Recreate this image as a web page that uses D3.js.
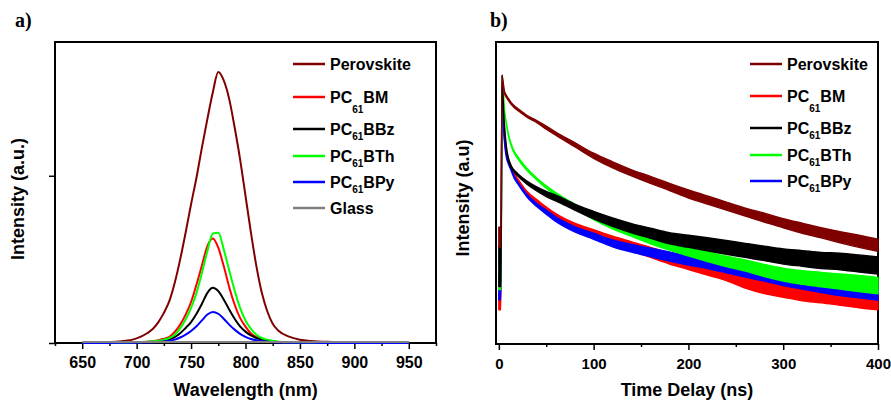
<!DOCTYPE html>
<html>
<head>
<meta charset="utf-8">
<script src="https://cdn.jsdelivr.net/npm/d3@7"></script>
<style>
  body { margin: 0; background: #fff; }
  text { font-family: "Liberation Sans", Arial, sans-serif; font-weight: bold; fill: #000; }
</style>
</head>
<body>
<div id="viz"></div>
<script>
// ---- panel a: steady state PL spectra ----
const wavelength = [650, 670, 690, 700, 710, 715, 720, 725, 730, 735, 740, 745, 750, 755, 760, 765, 770, 775, 780, 785, 790, 795, 800, 805, 810, 815, 820, 825, 830, 840, 850, 860, 880, 900, 950];
const perovskitePL = [0.002, 0.004, 0.013, 0.028, 0.06, 0.085, 0.125, 0.18, 0.25, 0.36, 0.50, 0.66, 0.83, 0.99, 1.17, 1.34, 1.50, 1.62, 1.57, 1.46, 1.29, 1.10, 0.88, 0.66, 0.46, 0.30, 0.19, 0.115, 0.075, 0.038, 0.02, 0.012, 0.006, 0.003, 0.001];
const bmPL = [0, 0.001, 0.002, 0.004, 0.008, 0.011, 0.017, 0.025, 0.037, 0.066, 0.11, 0.17, 0.245, 0.35, 0.465, 0.58, 0.625, 0.57, 0.46, 0.335, 0.23, 0.15, 0.098, 0.057, 0.035, 0.022, 0.015, 0.009, 0.006, 0.003, 0.002, 0.001, 0.001, 0, 0];
const bbzPL = [0, 0.001, 0.002, 0.003, 0.005, 0.007, 0.01, 0.015, 0.022, 0.035, 0.058, 0.09, 0.125, 0.175, 0.235, 0.30, 0.33, 0.31, 0.26, 0.20, 0.145, 0.10, 0.068, 0.045, 0.03, 0.02, 0.013, 0.009, 0.006, 0.003, 0.002, 0.001, 0.001, 0, 0];
const bthPL = [0, 0.001, 0.002, 0.004, 0.007, 0.010, 0.014, 0.020, 0.030, 0.050, 0.087, 0.14, 0.21, 0.30, 0.42, 0.55, 0.655, 0.66, 0.56, 0.435, 0.315, 0.21, 0.135, 0.085, 0.05, 0.03, 0.02, 0.013, 0.008, 0.004, 0.003, 0.002, 0.001, 0.001, 0];
const bpyPL = [0, 0, 0.001, 0.002, 0.003, 0.004, 0.006, 0.009, 0.013, 0.02, 0.033, 0.05, 0.072, 0.10, 0.135, 0.17, 0.186, 0.175, 0.145, 0.11, 0.08, 0.055, 0.037, 0.024, 0.016, 0.011, 0.007, 0.005, 0.003, 0.002, 0.001, 0.001, 0, 0, 0];
const glassPL = [0.006, 0.006, 0.006, 0.006, 0.006, 0.006, 0.006, 0.006, 0.006, 0.006, 0.006, 0.006, 0.006, 0.006, 0.006, 0.006, 0.006, 0.006, 0.006, 0.006, 0.006, 0.006, 0.006, 0.006, 0.006, 0.006, 0.006, 0.006, 0.006, 0.006, 0.006, 0.006, 0.006, 0.006, 0.006];
const wlTicks = [650, 700, 750, 800, 850, 900, 950];
const wlMinor = [625, 675, 725, 775, 825, 875, 925, 975];

const namesA = ['Perovskite', 'PC61BM', 'PC61BBz', 'PC61BTh', 'PC61BPy', 'Glass'];
const colorsA = ['#800000', '#ff0000', '#000000', '#00ff00', '#0000ff', '#808080'];
const seriesA = [perovskitePL, bmPL, bbzPL, bthPL, bpyPL, glassPL];

// ---- panel b: TRPL decays (log10 of counts, with noise half width) ----
const time = [0, 1, 2.2, 3.4, 5, 6, 8, 10, 13, 16, 20, 30, 40, 50, 60, 80, 100, 120, 140, 160, 180, 200, 220, 240, 260, 280, 300, 320, 340, 360, 380, 400];
const perovskiteLog = [1.06, 1.06, 1.06, 2.67, 2.56, 2.50, 2.46, 2.43, 2.39, 2.36, 2.33, 2.26, 2.21, 2.15, 2.09, 1.98, 1.87, 1.78, 1.70, 1.63, 1.56, 1.49, 1.43, 1.37, 1.31, 1.255, 1.20, 1.15, 1.105, 1.06, 1.02, 0.98];
const perovskiteNoise = [0.10, 0.10, 0.10, 0, 0.01, 0.01, 0.01, 0.01, 0.01, 0.01, 0.01, 0.01, 0.01, 0.015, 0.015, 0.02, 0.025, 0.03, 0.03, 0.035, 0.035, 0.04, 0.04, 0.04, 0.04, 0.045, 0.045, 0.05, 0.05, 0.055, 0.06, 0.06];
const bmLog = [0.42, 0.42, 0.42, 2.67, 2.18, 2.04, 1.89, 1.83, 1.76, 1.69, 1.63, 1.50, 1.42, 1.34, 1.27, 1.17, 1.10, 1.03, 0.97, 0.91, 0.85, 0.80, 0.75, 0.70, 0.63, 0.58, 0.55, 0.52, 0.50, 0.48, 0.46, 0.44];
const bmNoise = [0.08, 0.08, 0.08, 0, 0.01, 0.01, 0.01, 0.01, 0.01, 0.01, 0.01, 0.012, 0.015, 0.02, 0.025, 0.03, 0.035, 0.04, 0.045, 0.05, 0.055, 0.06, 0.065, 0.07, 0.075, 0.08, 0.085, 0.09, 0.09, 0.095, 0.10, 0.10];
const bbzLog = [0.77, 0.77, 0.77, 2.67, 2.32, 2.16, 1.95, 1.84, 1.76, 1.72, 1.68, 1.60, 1.54, 1.49, 1.45, 1.36, 1.28, 1.21, 1.15, 1.10, 1.05, 1.02, 0.99, 0.96, 0.93, 0.90, 0.87, 0.85, 0.83, 0.82, 0.80, 0.78];
const bbzNoise = [0.20, 0.20, 0.20, 0, 0.01, 0.01, 0.01, 0.01, 0.01, 0.01, 0.012, 0.015, 0.02, 0.025, 0.028, 0.03, 0.038, 0.042, 0.046, 0.05, 0.055, 0.06, 0.065, 0.068, 0.07, 0.072, 0.075, 0.078, 0.08, 0.082, 0.085, 0.085];
const bthLog = [0.62, 0.62, 0.62, 2.67, 2.47, 2.32, 2.19, 2.08, 1.98, 1.91, 1.85, 1.73, 1.64, 1.56, 1.49, 1.37, 1.26, 1.17, 1.10, 1.03, 0.97, 0.92, 0.87, 0.82, 0.78, 0.73, 0.69, 0.66, 0.64, 0.62, 0.60, 0.58];
const bthNoise = [0.08, 0.08, 0.08, 0, 0.01, 0.01, 0.01, 0.01, 0.01, 0.01, 0.01, 0.01, 0.01, 0.012, 0.015, 0.02, 0.024, 0.027, 0.03, 0.034, 0.038, 0.045, 0.05, 0.052, 0.056, 0.06, 0.064, 0.068, 0.072, 0.075, 0.08, 0.082];
const bpyLog = [0.49, 0.49, 0.49, 2.67, 2.15, 2.01, 1.86, 1.80, 1.73, 1.66, 1.60, 1.47, 1.38, 1.31, 1.24, 1.14, 1.07, 1.00, 0.95, 0.91, 0.87, 0.83, 0.80, 0.76, 0.72, 0.68, 0.64, 0.61, 0.58, 0.55, 0.53, 0.51];
const bpyNoise = [0.05, 0.05, 0.05, 0, 0.01, 0.01, 0.01, 0.01, 0.01, 0.01, 0.01, 0.012, 0.015, 0.02, 0.022, 0.026, 0.03, 0.034, 0.038, 0.042, 0.045, 0.045, 0.05, 0.052, 0.054, 0.056, 0.06, 0.064, 0.068, 0.07, 0.072, 0.075];
const timeTicks = [0, 100, 200, 300, 400];
const timeMinor = [50, 150, 250, 350];

const namesB = ['Perovskite', 'PC61BM', 'PC61BBz', 'PC61BTh', 'PC61BPy'];
const colorsB = ['#800000', '#ff0000', '#000000', '#00ff00', '#0000ff'];
const seriesB = [[perovskiteLog, perovskiteNoise], [bmLog, bmNoise], [bbzLog, bbzNoise], [bthLog, bthNoise], [bpyLog, bpyNoise]];
// red first, perovskite last (on top)
const drawOrderB = [1, 4, 3, 2, 0];

const svg = d3.select('#viz').append('svg')
    .attr('width', 891)
    .attr('height', 403);

const boxA = {left: 55, right: 436, top: 42, bottom: 343};
const boxB = {left: 496, right: 878, top: 42, bottom: 344};

const xA = d3.scaleLinear().domain([625, 975]).range([boxA.left, boxA.right]);
const yA = d3.scaleLinear().domain([0, 1.8]).range([boxA.bottom, boxA.top]);
const xB = d3.scaleLinear().domain([-3, 400]).range([boxB.left, boxB.right]);
const yB = d3.scaleLinear().domain([0, 3]).range([boxB.bottom, boxB.top]);

function frame(box) {
    svg.append('rect')
        .attr('x', box.left).attr('y', box.top)
        .attr('width', box.right - box.left)
        .attr('height', box.bottom - box.top)
        .attr('fill', 'none')
        .attr('stroke', '#000')
        .attr('stroke-width', 2);
}

function bottomAxis(x, box, major, minor, size) {
    let g = svg.append('g')
        .attr('transform', `translate(0,${box.bottom})`)
        .call(d3.axisBottom(x).tickValues(major).tickSize(6).tickPadding(8).tickFormat(d3.format('d')));
    g.select('.domain').remove();
    g.selectAll('line').attr('stroke-width', 1.5);
    g.selectAll('text')
        .attr('font-size', size)
        .attr('font-family', '"Liberation Sans", Arial, sans-serif')
        .attr('font-weight', 'bold');
    let m = svg.append('g')
        .attr('transform', `translate(0,${box.bottom})`)
        .call(d3.axisBottom(x).tickValues(minor).tickSize(3).tickFormat(''));
    m.select('.domain').remove();
    m.selectAll('line').attr('stroke-width', 1.5);
}

function legend(names, colors, x0, rows) {
    names.forEach((name, i) => {
        svg.append('line')
            .attr('x1', x0).attr('x2', x0 + 32)
            .attr('y1', rows[i]).attr('y2', rows[i])
            .attr('stroke', colors[i])
            .attr('stroke-width', 2.5);
        let t = svg.append('text')
            .attr('x', x0 + 37)
            .attr('y', rows[i] + 6)
            .attr('font-size', 16);
        let parts = name.match(/^(PC)(61)(.*)$/);
        if (parts) {
            // the BM entry has its subscript dropped lower than the others
            let drop = parts[3] === 'BM' ? 10 : 5;
            t.append('tspan').text(parts[1]);
            t.append('tspan').attr('font-size', 10).attr('dy', drop).text(parts[2]);
            t.append('tspan').attr('dy', -drop).text(parts[3]);
        } else {
            t.text(name);
        }
    });
}

// ---- panel a ----
frame(boxA);
bottomAxis(xA, boxA, wlTicks, wlMinor, 16);
let ya = svg.append('g')
    .attr('transform', `translate(${boxA.left},0)`)
    .call(d3.axisLeft(yA).tickValues([0, 1]).tickSize(6).tickFormat(''));
ya.select('.domain').remove();
ya.selectAll('line').attr('stroke-width', 1.5);

const lineA = d3.line()
    .x(d => xA(d[0]))
    .y(d => yA(d[1]))
    .curve(d3.curveMonotoneX);

seriesA.forEach((s, i) => {
    svg.append('path')
        .datum(wavelength.map((w, j) => [w, s[j]]))
        .attr('d', lineA)
        .attr('fill', 'none')
        .attr('stroke', colorsA[i])
        .attr('stroke-width', 2);
});

legend(namesA, colorsA, 293, [64, 97, 129, 156, 182, 208]);

svg.append('text')
    .attr('x', (boxA.left + boxA.right) / 2).attr('y', 396)
    .attr('text-anchor', 'middle').attr('font-size', 18)
    .text('Wavelength (nm)');
svg.append('text')
    .attr('transform', 'translate(24,199) rotate(-90)')
    .attr('text-anchor', 'middle').attr('font-size', 18)
    .text('Intensity (a.u.)');
svg.append('text')
    .attr('x', 15).attr('y', 27)
    .attr('font-size', 20)
    .style('font-family', '"Liberation Serif", "Times New Roman", serif')
    .text('a)');

// ---- panel b ----
frame(boxB);
bottomAxis(xB, boxB, timeTicks, timeMinor, 15);

const bandB = d3.area()
    .x(d => xB(d.t))
    .y0(d => yB(d.v - d.n))
    .y1(d => yB(d.v + d.n))
    .curve(d3.curveMonotoneX);

drawOrderB.forEach(i => {
    let pts = time.map((t, j) => ({t: t, v: seriesB[i][0][j], n: seriesB[i][1][j]}));
    svg.append('path')
        .datum(pts)
        .attr('d', bandB)
        .attr('fill', colorsB[i])
        .attr('stroke', colorsB[i])
        .attr('stroke-width', 1.4)
        .attr('stroke-linejoin', 'round');
});

legend(namesB, colorsB, 750, [64, 96, 128, 155, 181]);

svg.append('text')
    .attr('x', (boxB.left + boxB.right) / 2).attr('y', 396)
    .attr('text-anchor', 'middle').attr('font-size', 18)
    .text('Time Delay (ns)');
svg.append('text')
    .attr('transform', 'translate(469,198) rotate(-90)')
    .attr('text-anchor', 'middle').attr('font-size', 18)
    .text('Intensity (a.u)');
svg.append('text')
    .attr('x', 490).attr('y', 27)
    .attr('font-size', 20)
    .style('font-family', '"Liberation Serif", "Times New Roman", serif')
    .text('b)');
</script>
</body>
</html>
